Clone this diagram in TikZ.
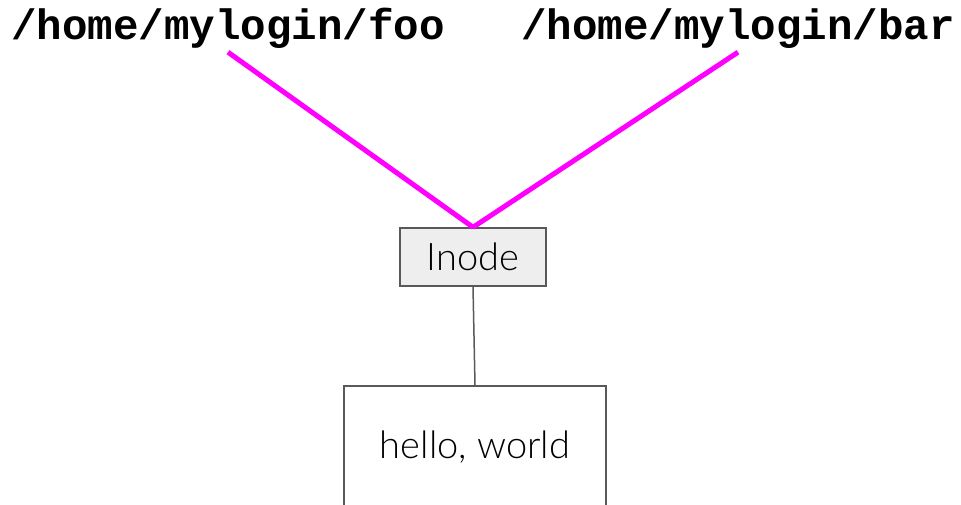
\documentclass[tikz,border=0pt]{standalone}
\usepackage{fontspec}
\setmainfont{Lato Light}
\newfontfamily\pathfont{Liberation Mono}
\definecolor{linkpink}{HTML}{FF00FF}
\definecolor{boxline}{HTML}{595959}
\definecolor{boxfill}{HTML}{EEEEEE}
\begin{document}
\begin{tikzpicture}[x=1pt,y=-1pt,
  pathlabel/.style={inner sep=0pt,font=\pathfont\bfseries\fontsize{42.5}{42.5}\selectfont},
  link/.style={linkpink,line width=5pt},
  databox/.style={draw=boxline,line width=1.5pt,inner sep=0pt},
  plainline/.style={boxline,line width=1.5pt}]
  \useasboundingbox (0,0) rectangle (961,505);
  \clip (0,0) rectangle (961,505);
  % directory entries
  \node[pathlabel,anchor=base] (foo) at (228,40) {/home/mylogin/foo};
  \node[pathlabel,anchor=base] (bar) at (738,40) {/home/mylogin/bar};
  % inode and its data block
  \node[databox,fill=boxfill,minimum width=146pt,minimum height=58pt,
        font=\fontsize{38}{38}\selectfont] (inode) at (473,257) {Inode};
  \node[databox,fill=white,minimum width=262pt,minimum height=122pt,
        font=\fontsize{38}{38}\selectfont] (hello) at (475,447) {hello, world};
  % hard links
  \draw[link] (foo.south) ++(0,3) coordinate (fooend) -- (inode.north);
  \draw[link] (bar.south) ++(0,3) coordinate (barend) -- (inode.north);
  \draw[plainline] (inode.south) -- (hello.north);
\end{tikzpicture}
\end{document}
